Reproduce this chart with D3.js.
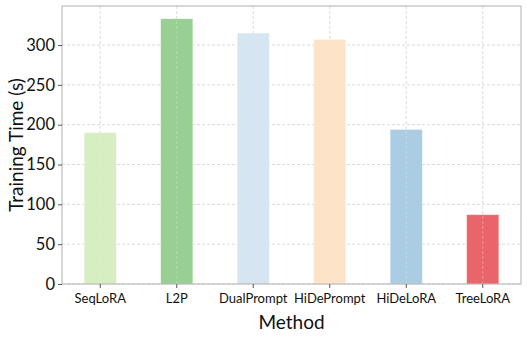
<!DOCTYPE html>
<html>
<head>
<meta charset="utf-8">
<script src="https://cdn.jsdelivr.net/npm/d3@7"></script>
<style>
  body { margin: 0; background: #fff; }
</style>
</head>
<body>
<div id="chart"></div>
<script>
const methods = ["SeqLoRA", "L2P", "DualPrompt", "HiDePrompt", "HiDeLoRA", "TreeLoRA"];
const trainTime = [190, 333, 315, 307, 194, 87];
const barColours = ["#d5edc0", "#92cc8c", "#d3e5f1", "#fde3c6", "#a7cae2", "#e85d61"];
const yTicks = [0, 50, 100, 150, 200, 250, 300];

const sizes = {width: 527, height: 337, margin: {top: 6, right: 6, bottom: 53, left: 62}};
const font = "Lato, 'DejaVu Sans', sans-serif";

const svg = d3.select("#chart").append("svg")
  .attr("width", sizes.width)
  .attr("height", sizes.height);

const x = d3.scaleBand()
  .domain(methods)
  .range([sizes.margin.left, sizes.width - sizes.margin.right])
  .paddingInner(0.58)
  .paddingOuter(0.29)
  .align(0.5);

// centre positions for grid/ticks
const cx = (d) => x(d) + x.bandwidth() / 2;

const y = d3.scaleLinear()
  .domain([0, 349])
  .range([sizes.height - sizes.margin.bottom, sizes.margin.top]);

// grid (under)
const grid = svg.append("g");
grid.selectAll("line.h")
  .data(yTicks)
  .enter().append("line")
    .attr("x1", sizes.margin.left)
    .attr("x2", sizes.width - sizes.margin.right)
    .attr("y1", (d) => y(d))
    .attr("y2", (d) => y(d))
    .attr("stroke", "#d0d0d0")
    .attr("stroke-width", 0.8)
    .attr("stroke-dasharray", "3 2");
grid.selectAll("line.v")
  .data(methods)
  .enter().append("line")
    .attr("x1", cx)
    .attr("x2", cx)
    .attr("y1", sizes.margin.top)
    .attr("y2", sizes.height - sizes.margin.bottom)
    .attr("stroke", "#d0d0d0")
    .attr("stroke-width", 0.8)
    .attr("stroke-dasharray", "3 2");

// bars
svg.append("g")
  .selectAll("rect")
  .data(methods)
  .enter().append("rect")
    .attr("x", (d) => x(d))
    .attr("y", (d, i) => y(trainTime[i]))
    .attr("width", x.bandwidth())
    .attr("height", (d, i) => y(0) - y(trainTime[i]))
    .attr("fill", (d, i) => barColours[i])
    .attr("fill-opacity", 0.95)
    .attr("stroke", "#fff")
    .attr("stroke-opacity", 0.4)
    .attr("stroke-width", 0.8);

// faint grid over bars (vertical dashes show through)
svg.append("g")
  .selectAll("line")
  .data(methods)
  .enter().append("line")
    .attr("x1", cx)
    .attr("x2", cx)
    .attr("y1", sizes.margin.top)
    .attr("y2", sizes.height - sizes.margin.bottom)
    .attr("stroke", "#e8e8e8")
    .attr("stroke-opacity", 0.5)
    .attr("stroke-width", 0.8)
    .attr("stroke-dasharray", "3 2");

// frame
svg.append("rect")
  .attr("x", sizes.margin.left)
  .attr("y", sizes.margin.top)
  .attr("width", sizes.width - sizes.margin.left - sizes.margin.right)
  .attr("height", sizes.height - sizes.margin.top - sizes.margin.bottom)
  .attr("fill", "none")
  .attr("stroke", "#b0b0b0")
  .attr("stroke-width", 1);

// y axis
const yAxis = svg.append("g")
  .attr("transform", `translate(${sizes.margin.left},0)`)
  .call(d3.axisLeft(y).tickValues(yTicks).tickSize(4).tickPadding(3));
yAxis.select(".domain").remove();
yAxis.selectAll("line").attr("stroke", "#555");
yAxis.selectAll("text")
  .style("font-size", "16.5px")
  .style("font-family", font)
  .style("fill", "#111");

// x axis
const xAxis = svg.append("g")
  .attr("transform", `translate(0,${sizes.height - sizes.margin.bottom})`)
  .call(d3.axisBottom(x).tickSize(4).tickPadding(6));
xAxis.select(".domain").remove();
xAxis.selectAll("line").attr("stroke", "#555");
xAxis.selectAll("text")
  .style("font-size", "13px")
  .style("font-family", font)
  .style("fill", "#111");

// axis titles
svg.append("text")
  .text("Method")
  .attr("x", (sizes.margin.left + sizes.width - sizes.margin.right) / 2)
  .attr("y", 329)
  .style("text-anchor", "middle")
  .style("font-size", "19px")
  .style("font-family", font)
  .style("fill", "#111");

svg.append("text")
  .text("Training Time (s)")
  .attr("transform", `translate(23,${(sizes.margin.top + sizes.height - sizes.margin.bottom) / 2}) rotate(-90)`)
  .style("text-anchor", "middle")
  .style("font-size", "19px")
  .style("font-family", font)
  .style("fill", "#111");
</script>
</body>
</html>
